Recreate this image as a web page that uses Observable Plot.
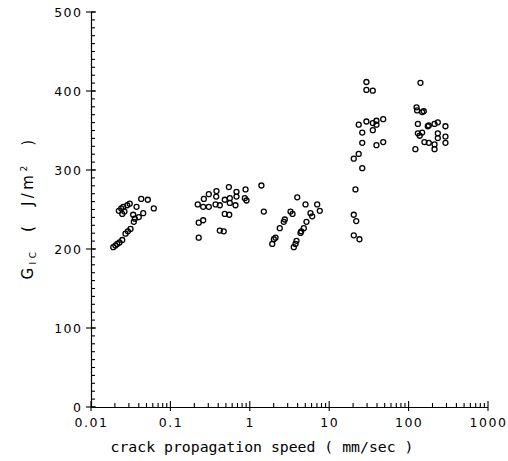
<!DOCTYPE html>
<html><head><meta charset="utf-8">
<script src="https://cdn.jsdelivr.net/npm/d3@7"></script>
<script src="https://cdn.jsdelivr.net/npm/@observablehq/plot@0.6"></script>
<style>body{margin:0;background:#fff}</style>
</head><body><div id="chart"></div>
<script>
// crack propagation speed (mm/sec)
const speed = [
  // 0.01-0.1 decade
  0.0188,0.0200,0.0211,0.0225,0.0244,0.0268,0.0287,0.0310,0.0341,0.0351,0.0394,0.0448,0.0335,
  0.0221,0.0237,0.0251,0.0260,0.0282,0.0303,0.0369,0.0423,0.0512,0.0609,0.0244,
  // 0.2-1 decade
  0.224,0.224,0.255,0.218,0.255,0.300,0.260,0.300,0.375,0.372,0.365,0.413,0.477,0.552,0.537,
  0.552,0.651,0.670,0.670,0.871,0.853,0.896,0.477,0.543,0.413,0.463,
  1.38,1.48,
  // 1-10 decade
  1.89,1.98,2.08,2.35,2.64,2.72,3.21,3.40,3.90,3.53,3.71,3.82,4.29,4.38,4.72,5.10,4.96,5.73,6.02,6.96,7.50,
  // 10-100 decade
  20.1,23.7,20.1,21.6,21.1,25.7,20.1,23.2,25.7,38.8,47.2,25.7,34.9,38.8,23.2,29.0,34.9,38.8,47.2,29.0,29.0,34.9,
  // 100-300
  139,124,126,146,153,129,172,177,209,230,287,129,146,136,230,230,287,156,177,209,209,287,120
];
// G_IC (J/m^2)
const gic = [
  203,205,207,209,212,220,223,226,235,239,241,246,244,
  249,252,254,248,256,258,254,264,263,252,245,
  215,234,237,257,254,254,264,270,274,267,257,256,263,265,279,
  259,256,273,267,276,265,262,245,244,224,223,
  281,248,
  207,213,215,227,235,238,248,245,266,203,207,211,221,223,227,235,257,246,242,257,249,
  218,213,244,236,276,303,315,321,335,332,336,348,351,358,358,362,360,363,365,412,402,401,
  411,380,376,374,375,359,356,357,359,361,356,347,348,344,347,341,343,336,335,333,327,335,327
];
const xMajorTicks = [0.01, 0.1, 1, 10, 100, 1000];
const xTickLabels = ["0.01", "0.1", "1", "10", "100", "1000"];
const yMajorTicks = [0, 100, 200, 300, 400, 500];
const xAxisLabel = "crack propagation speed ( mm/sec )";
const yLabelParts = ["G", "IC", "  (  J/m", "2", "  )"];

const data = speed.map((s, i) => ({s, g: gic[i]}));
const xMinor = d3.range(-2, 3).flatMap(e => d3.range(2, 10).map(m => m * 10 ** e));
const yMinor = d3.range(0, 501, 10);
const xMin = xMajorTicks[0], yMin = yMajorTicks[0];

const chart = Plot.plot({
  width: 508, height: 461,
  marginLeft: 91, marginRight: 20, marginTop: 12, marginBottom: 54,
  style: {fontFamily: "DejaVu Sans", fontSize: "12.5px", background: "white", color: "black", letterSpacing: "1.5px"},
  x: {type: "log", domain: [0.01, 1000], axis: null},
  y: {domain: [0, 500], axis: null},
  marks: [
    Plot.axisY(yMajorTicks, {tickSize: 0, tickPadding: 9, label: null}),
    Plot.axisX(xMajorTicks, {tickSize: 0, tickPadding: 11, label: null,
      tickFormat: d => xTickLabels[xMajorTicks.indexOf(d)]}),
    Plot.ruleX([xMin], {stroke: "black", strokeWidth: 1.2}),
    Plot.ruleY([yMin], {stroke: "black", strokeWidth: 1.2}),
    Plot.dot(data, {x: "s", y: "g", r: 2.5, stroke: "black", strokeWidth: 1.3, fill: "none"})
  ]
});

const svg = d3.select(chart);
const sx = chart.scale("x"), sy = chart.scale("y");
const X0 = sx.apply(xMin), Y0 = sy.apply(yMin);
const tg = svg.append("g").attr("stroke", "black").attr("stroke-width", 1.1);
// y ticks: minor point inward, major cross the axis
tg.selectAll(null).data(yMinor).join("line")
  .attr("x1", X0).attr("x2", X0 + 4).attr("y1", d => sy.apply(d)).attr("y2", d => sy.apply(d));
tg.selectAll(null).data(yMajorTicks).join("line")
  .attr("x1", X0 - 5).attr("x2", X0 + 5).attr("y1", d => sy.apply(d)).attr("y2", d => sy.apply(d));
// x ticks
tg.selectAll(null).data(xMinor).join("line")
  .attr("y1", Y0).attr("y2", Y0 - 4).attr("x1", d => sx.apply(d)).attr("x2", d => sx.apply(d));
tg.selectAll(null).data(xMajorTicks).join("line")
  .attr("y1", Y0 + 4).attr("y2", Y0 - 6).attr("x1", d => sx.apply(d)).attr("x2", d => sx.apply(d));

svg.append("text")
  .attr("x", 262).attr("y", 452)
  .attr("text-anchor", "middle")
  .style("font-family", "'DejaVu Sans Mono'")
  .style("font-size", "14.8px")
  .style("letter-spacing", "0px")
  .attr("fill", "black")
  .text(xAxisLabel);

const yl = svg.append("text")
  .attr("transform", "translate(33,208) rotate(-90)")
  .attr("text-anchor", "middle")
  .attr("xml:space", "preserve")
  .style("white-space", "pre")
  .style("font-family", "'DejaVu Sans'")
  .style("font-size", "15px")
  .style("letter-spacing", "3.5px")
  .attr("fill", "black");
yl.append("tspan").text(yLabelParts[0]);
yl.append("tspan").attr("font-size", "9px").attr("dy", 3).text(yLabelParts[1]);
yl.append("tspan").attr("dy", -3).text(yLabelParts[2]);
yl.append("tspan").attr("font-size", "9px").attr("dy", -6).text(yLabelParts[3]);
yl.append("tspan").attr("dy", 6).text(yLabelParts[4]);

document.getElementById("chart").appendChild(chart);
</script>
</body></html>
